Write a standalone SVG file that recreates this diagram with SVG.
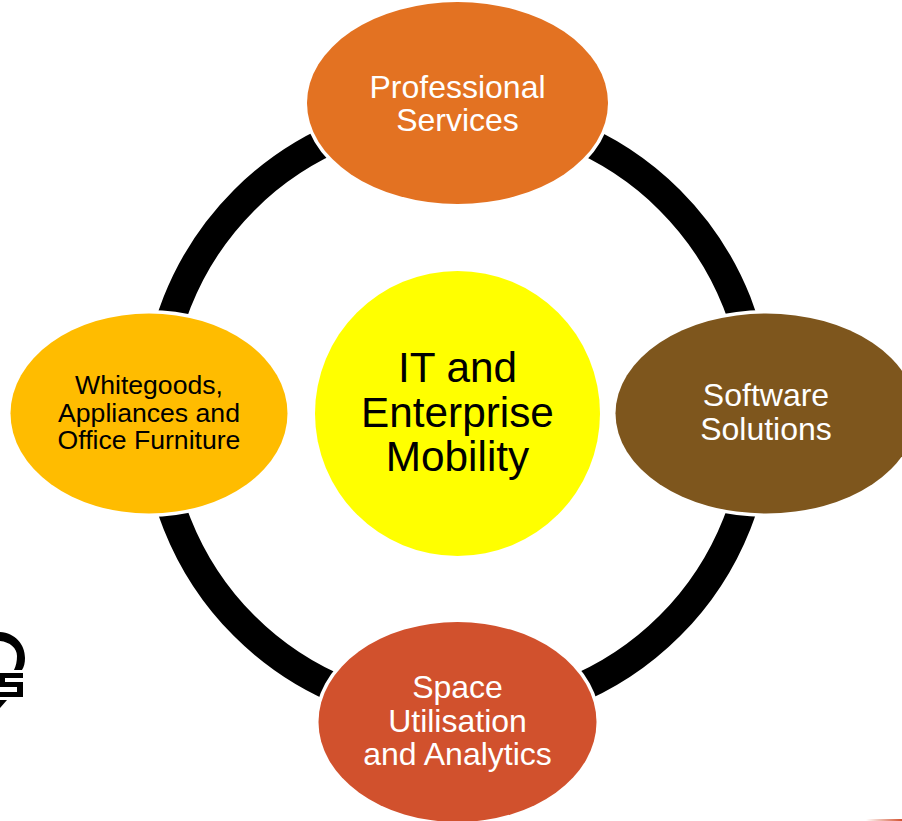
<svg xmlns="http://www.w3.org/2000/svg" width="902" height="821" viewBox="0 0 902 821">
<style>
text{font-family:"Liberation Sans",Arial,sans-serif;text-anchor:middle}
.w{fill:#fff;font-size:32px}
.k{fill:#000;font-size:26.600px}
.c{fill:#000;font-size:42.300px}
.n{stroke:#fff;stroke-width:7;paint-order:stroke}
</style>
<defs><linearGradient id="g"><stop offset="0" stop-color="#d35230" stop-opacity="0"/><stop offset="1" stop-color="#d35230"/></linearGradient></defs>
<rect width="902" height="821" fill="#fff"/>
<g id="logo">
<path d="M0 632C15 633 25 644 25 658C25 663 24 667 22 670L14 670C16 666 17 661 17 656C17 648 10 642 0 641Z" fill="#000"/>
<path d="M0 673H23V678H5V682H23V697H0V692H17V687H0ZM0 700H7L0 708Z" fill="#000"/>
</g>
<g id="connectors"><circle cx="457" cy="413" r="301" fill="none" stroke="#000" stroke-width="29"/></g>
<g id="node-top"><ellipse class="n" cx="457.500" cy="103" rx="150.500" ry="101" fill="#e37222"/><text class="w" x="457.500" y="98">Professional</text><text class="w" x="457.500" y="131">Services</text></g>
<g id="node-right"><ellipse class="n" cx="766" cy="413.500" rx="150.500" ry="100" fill="#7e561d"/><text class="w" x="766" y="406">Software</text><text class="w" x="766" y="440">Solutions</text></g>
<g id="node-bottom"><ellipse class="n" cx="457.500" cy="722" rx="139" ry="100" fill="#d1512d"/><text class="w" x="457.500" y="698">Space</text><text class="w" x="457.500" y="732">Utilisation</text><text class="w" x="457.500" y="765">and Analytics</text></g>
<g id="node-left"><ellipse class="n" cx="149" cy="413.500" rx="138.500" ry="100" fill="#ffbc00"/><text class="k" x="149" y="394">Whitegoods,</text><text class="k" x="149" y="422">Appliances and</text><text class="k" x="149" y="449">Office Furniture</text></g>
<g id="node-center"><circle cx="457.500" cy="413.500" r="142.500" fill="#ff0"/><text class="c" x="457.500" y="382">IT and</text><text class="c" x="457.500" y="427">Enterprise</text><text class="c" x="457.500" y="471">Mobility</text></g>
<rect id="accent" x="866" y="819" width="36" height="2" fill="url(#g)"/>
</svg>
